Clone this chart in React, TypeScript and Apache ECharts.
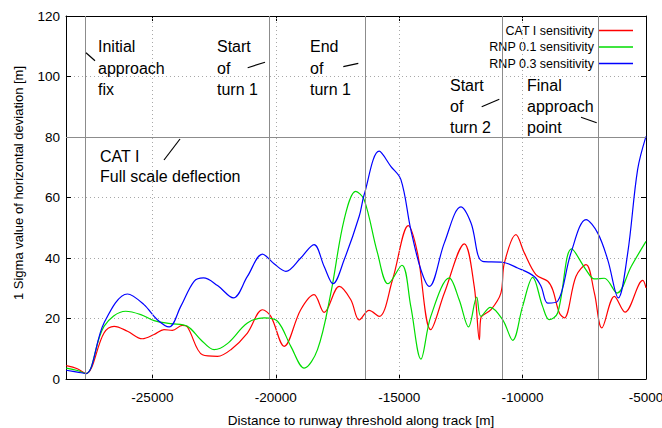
import React, { useEffect, useRef } from "react";
import * as echarts from "echarts";

const seriesNames = ["CAT I sensitivity", "RNP 0.1 sensitivity", "RNP 0.3 sensitivity"];
const seriesColors = ["#ff0000", "#00dd00", "#0000ff"];

const xTicks = [-25000, -20000, -15000, -10000, -5000];
const xGrid = [-25000, -20000, -15000, -10000];
const eventX = [-27700, -20270, -16380, -10820, -6930];
const fullScaleY = 80;

const catI: [number, number][] = [
  [-28490, 4.4], [-28040, 3.4], [-27690, 1.8], [-26960, 15.2], [-26550, 17.4], [-26010, 15.8],
  [-25410, 13.3], [-24930, 14.7], [-24530, 16.3], [-24190, 16.1], [-23790, 17.7], [-23580, 17.2],
  [-22970, 8.0], [-22360, 7.5], [-21820, 9.7], [-21150, 15.2], [-20540, 22.9], [-20200, 20.7],
  [-19660, 10.8], [-18990, 22.9], [-18450, 27.9], [-18040, 22.0], [-17430, 30.6], [-16960, 26.2],
  [-16620, 19.5], [-16220, 22.7], [-15810, 20.7], [-15270, 32.8], [-14630, 50.7], [-14260, 41.7],
  [-13720, 16.3], [-13170, 28.4], [-12360, 44.7], [-11960, 30.6], [-11750, 13.0], [-11690, 20.2],
  [-11280, 22.9], [-10880, 28.4], [-10740, 38.3], [-10270, 47.7], [-9930, 41.7], [-9460, 34.5],
  [-8980, 32.3], [-8780, 29.5], [-8510, 21.8], [-8310, 20.2], [-7840, 33.9], [-7430, 37.8],
  [-7090, 28.4], [-6790, 16.9], [-6280, 27.3], [-5850, 22.1], [-5130, 32.6], [-5000, 30.1],
];

const rnp01: [number, number][] = [
  [-28490, 3.6], [-28040, 2.8], [-27690, 1.8], [-26960, 17.4], [-26080, 22.4], [-25470, 21.3],
  [-24930, 19.3], [-24260, 18.3], [-23580, 17.4], [-23040, 13.0], [-22500, 9.7], [-21960, 11.7],
  [-21150, 18.5], [-20470, 20.2], [-19930, 19.1], [-19390, 10.8], [-18850, 3.6], [-18310, 9.7],
  [-17770, 28.4], [-17230, 52.7], [-16760, 62.0], [-16420, 59.3], [-15880, 41.7], [-15450, 31.5],
  [-14890, 37.6], [-14530, 24.0], [-14120, 6.6], [-13720, 20.7], [-12970, 33.4], [-12570, 26.2],
  [-12190, 17.2], [-11860, 27.1], [-11690, 20.7], [-11310, 23.7], [-10810, 19.6], [-10400, 12.8],
  [-10000, 24.0], [-9590, 33.6], [-9190, 24.0], [-8920, 19.6], [-8580, 21.8], [-8010, 43.0],
  [-7430, 36.1], [-7090, 33.1], [-6690, 33.3], [-6170, 28.4], [-5600, 37.2], [-5000, 45.5],
];

const rnp03: [number, number][] = [
  [-28490, 2.9], [-28040, 2.3], [-27690, 1.8], [-26960, 18.5], [-26010, 28.1], [-25340, 24.6],
  [-24800, 19.6], [-24320, 17.2], [-23850, 24.0], [-23310, 32.3], [-22930, 33.4], [-22360, 30.9],
  [-21720, 26.8], [-21150, 33.9], [-20540, 41.3], [-20070, 38.1], [-19590, 35.6], [-18990, 40.0],
  [-18450, 44.4], [-18040, 37.2], [-17680, 31.5], [-17230, 39.4], [-16620, 53.8], [-16420, 60.9],
  [-15810, 75.3], [-15340, 70.3], [-14930, 65.9], [-14530, 49.4], [-14120, 36.1], [-13780, 30.6],
  [-13170, 45.0], [-12500, 56.9], [-12090, 51.6], [-11620, 38.9], [-10810, 38.6], [-10200, 36.7],
  [-9530, 33.9], [-9250, 30.6], [-8980, 25.1], [-8580, 25.7], [-8040, 41.7], [-7430, 52.7],
  [-6960, 48.3], [-6550, 39.4], [-6120, 26.8], [-5740, 41.7], [-5340, 69.2], [-5000, 80.2],
];

const annotations = [
  { text: "Initial\napproach\nfix", x: 98, y: 36, lh: 21.5 },
  { text: "Start\nof\nturn 1", x: 217, y: 36, lh: 21.5 },
  { text: "End\nof\nturn 1", x: 310, y: 36, lh: 21.5 },
  { text: "CAT I\nFull scale deflection", x: 100, y: 146.7, lh: 20 },
  { text: "Start\nof\nturn 2", x: 450, y: 74.5, lh: 21 },
  { text: "Final\napproach\npoint", x: 527, y: 74.5, lh: 21 },
];
const leaders = [
  [86, 52.7, 95, 60.7],
  [247.7, 67.7, 265, 62.3],
  [343.3, 66.7, 358.3, 63.3],
  [164, 160, 180, 139],
  [481.7, 106.7, 499.3, 99.3],
  [581, 117.3, 596.7, 122.7],
];

const FONT = "'Liberation Sans', Arial, sans-serif";

export default function App() {
  const ref = useRef<HTMLDivElement>(null);
  useEffect(() => {
    if (!ref.current) return;
    const chart = echarts.init(ref.current, null, { renderer: "svg" });
    const dataSets = [catI, rnp01, rnp03];
    const gridLineStyle = { color: "#a8a8a8", width: 1, type: [1, 3] as any };
    const eventStyle = { color: "#8c8c8c", width: 1, type: "solid" as any };
    chart.setOption({
      animation: false,
      textStyle: { fontFamily: FONT },
      grid: {
        left: 66,
        right: 16,
        top: 16,
        bottom: 49,
        containLabel: false,
        outerBoundsMode: "none",
      },
      legend: {
        data: seriesNames,
        orient: "vertical",
        align: "right",
        right: 29,
        top: 24,
        padding: 0,
        itemGap: 3.5,
        itemWidth: 34,
        itemHeight: 1.5,
        icon: "rect",
        selectedMode: false,
        textStyle: { fontSize: 12.5, color: "#000", fontFamily: FONT },
      },
      xAxis: [
        {
          type: "value",
          min: -28500,
          max: -5000,
          position: "bottom",
          axisLine: { show: true, onZero: false, lineStyle: { color: "#000", width: 1 } },
          axisTick: { show: true, inside: true, length: 5, customValues: xTicks, lineStyle: { color: "#000" } },
          axisLabel: {
            customValues: xTicks,
            formatter: (v: number) => String(v),
            fontSize: 13.5,
            color: "#000",
            margin: 11,
            fontFamily: FONT,
          },
          splitLine: { show: false },
          name: "Distance to runway threshold along track [m]",
          nameLocation: "middle",
          nameGap: 34,
          nameTextStyle: { fontSize: 13.5, color: "#000", fontFamily: FONT, padding: [0, 0, 0, 10] },
        },
        {
          type: "value",
          min: -28500,
          max: -5000,
          position: "top",
          axisLine: { show: true, onZero: false, lineStyle: { color: "#000", width: 1 } },
          axisTick: { show: true, inside: true, length: 5, customValues: xTicks, lineStyle: { color: "#000" } },
          axisLabel: { show: false },
          splitLine: { show: false },
        },
      ],
      yAxis: [
        {
          type: "value",
          min: 0,
          max: 120,
          interval: 20,
          position: "left",
          axisLine: { show: true, onZero: false, lineStyle: { color: "#000", width: 1 } },
          axisTick: { show: true, inside: true, length: 5, lineStyle: { color: "#000" } },
          axisLabel: { fontSize: 13.5, color: "#000", margin: 6, fontFamily: FONT },
          splitLine: { show: true, lineStyle: gridLineStyle },
          name: "1 Sigma value of horizontal deviation [m]",
          nameLocation: "middle",
          nameGap: 41,
          nameTextStyle: { fontSize: 13, color: "#000", fontFamily: FONT, padding: [0, 0, 0, 29] },
        },
        {
          type: "value",
          min: 0,
          max: 120,
          interval: 20,
          position: "right",
          axisLine: { show: true, onZero: false, lineStyle: { color: "#000", width: 1 } },
          axisTick: { show: true, inside: true, length: 5, lineStyle: { color: "#000" } },
          axisLabel: { show: false },
          splitLine: { show: false },
        },
      ],
      series: [
        {
          type: "line",
          name: "_refs",
          data: [],
          silent: true,
          z: 1,
          markLine: {
            silent: true,
            symbol: ["none", "none"],
            label: { show: false },
            data: [
              ...xGrid.map((x) => ({ xAxis: x, lineStyle: gridLineStyle })),
              ...eventX.map((x) => ({ xAxis: x, lineStyle: eventStyle })),
              { yAxis: fullScaleY, lineStyle: eventStyle },
            ],
          },
        },
        ...seriesNames.map((name, i) => ({
          type: "line",
          name,
          data: dataSets[i],
          smooth: 0.35,
          showSymbol: false,
          symbol: "none",
          z: 3,
          color: seriesColors[i],
          lineStyle: { color: seriesColors[i], width: 1.2 },
        })),
      ],
      graphic: [
        ...annotations.map((a) => ({
          type: "text",
          x: a.x,
          y: a.y,
          silent: true,
          z: 10,
          style: {
            text: a.text,
            fill: "#000",
            font: `16px ${FONT}`,
            lineHeight: a.lh,
            verticalAlign: "top",
            align: "left",
          },
        })),
        ...leaders.map((l) => ({
          type: "line",
          silent: true,
          z: 10,
          shape: { x1: l[0], y1: l[1], x2: l[2], y2: l[3] },
          style: { stroke: "#000", lineWidth: 1.2 },
        })),
      ],
    });
    return () => chart.dispose();
  }, []);
  return (
    <div
      ref={ref}
      style={{ position: "fixed", left: 0, top: 0, width: 662, height: 428, background: "#fff" }}
    />
  );
}
